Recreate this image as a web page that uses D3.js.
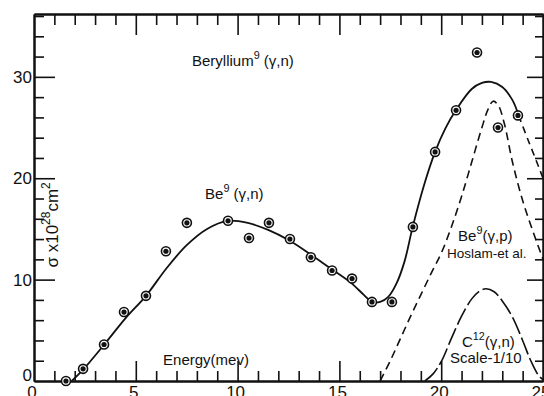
<!DOCTYPE html>
<html>
<head>
<meta charset="utf-8">
<script src="https://cdn.jsdelivr.net/npm/d3@7/dist/d3.min.js"></script>
<style>
  body { margin: 0; background: #fff; }
  svg { display: block; }
  text { font-family: "Liberation Sans", "DejaVu Sans", sans-serif; fill: #111; }
  .axis path, .axis line { stroke: #111; }
</style>
</head>
<body>
<svg id="chart" width="544" height="396"></svg>
<script>
// measured points, Be9(gamma,n)
const energy = [1.57, 2.41, 3.44, 4.42, 5.50, 6.48, 7.51, 9.53, 10.56, 11.54, 12.57, 13.60, 14.64, 15.62, 16.60, 17.58, 18.61, 19.70, 20.73, 21.76, 22.79, 23.77];
const sigma = [0.0, 1.2, 3.6, 6.8, 8.4, 12.8, 15.6, 15.8, 14.1, 15.6, 14.0, 12.2, 10.9, 10.1, 7.8, 7.8, 15.2, 22.6, 26.7, 32.4, 25.0, 26.2];

// drawn curve through the points (solid part, then dashed tail)
const fitE = [1.85, 2.4, 3.45, 4.5, 5.5, 6.5, 7.5, 8.5, 9.5, 10.5, 11.5, 12.5, 13.5, 14.5, 15.5, 16.2, 16.6, 17.0, 17.4, 17.8, 18.2, 18.6, 19.2, 19.7, 20.2, 20.75, 21.5, 22.0, 22.45, 23.0, 23.5, 23.8];
const fitS = [0.0, 1.1, 3.6, 6.2, 8.4, 11.1, 13.4, 15.0, 15.8, 15.6, 14.9, 13.9, 12.6, 11.2, 9.8, 8.5, 7.8, 7.8, 8.3, 9.6, 11.8, 15.2, 19.6, 22.6, 24.9, 26.8, 28.8, 29.4, 29.5, 29.0, 27.7, 26.2];
const tailE = [23.8, 24.3, 24.85, 25.3];
const tailS = [26.2, 23.6, 20.8, 18.3];

// Be9(gamma,p), Haslam et al.
const protonE = [17.0, 17.5, 18.0, 18.5, 19.0, 19.5, 20.0, 20.5, 21.0, 21.5, 22.0, 22.3, 22.55, 22.8, 23.1, 23.5, 24.0, 24.5, 25.0, 25.4];
const protonS = [0.0, 2.0, 4.2, 6.4, 8.5, 10.6, 12.6, 15.2, 18.2, 21.6, 25.0, 26.8, 27.6, 27.2, 25.4, 21.6, 17.8, 14.8, 12.0, 9.8];

// C12(gamma,n), scale 1/10
const carbonE = [19.2, 19.6, 20.0, 20.5, 21.0, 21.5, 21.9, 22.2, 22.6, 23.0, 23.5, 24.0, 24.4, 24.8, 25.1];
const carbonS = [0.0, 0.7, 1.9, 4.2, 6.4, 8.1, 8.9, 9.1, 8.8, 7.9, 6.3, 4.0, 2.0, 0.5, 0.0];

const xLabels = [0, 5, 10, 15, 20, 25];
const yLabels = [0, 10, 20, 30];

const svg = d3.select('#chart');
const width = +svg.attr('width');
const height = +svg.attr('height');

const x = d3.scaleLinear().domain([0, 25]).range([34, 543]);
const y = d3.scaleLinear().domain([0, 36.2]).range([381, 14]);

svg.append('rect').attr('width', width).attr('height', height).attr('fill', '#fff');

svg.append('clipPath').attr('id', 'plot')
  .append('rect')
    .attr('x', x(0)).attr('y', y(36.2))
    .attr('width', x(25) - x(0)).attr('height', y(0) - y(36.2));

// axes, ticks pointing inward
function tickAxis(axisFn, scale, values, size, transform) {
  svg.append('g')
    .attr('class', 'axis')
    .attr('transform', transform)
    .call(axisFn(scale).tickValues(values).tickSizeInner(size).tickSizeOuter(0).tickFormat(''))
    .call(g => g.select('.domain').attr('stroke-width', 2))
    .call(g => g.selectAll('.tick line').attr('stroke-width', 1.6));
}

const unitTicks = d3.range(0, 26).filter(d => d % 5 != 0);
const fiveTicks = [5, 10, 15, 20];
const evenTicks = d3.range(2, 37, 2).filter(d => d % 10 != 0);
const tenTicks = [10, 20, 30];

tickAxis(d3.axisBottom, x, unitTicks, -10, `translate(0,${y(0)})`);
tickAxis(d3.axisBottom, x, fiveTicks, -20, `translate(0,${y(0)})`);
tickAxis(d3.axisTop, x, unitTicks, -11, `translate(0,${y(36.2)})`);
tickAxis(d3.axisTop, x, fiveTicks, -21, `translate(0,${y(36.2)})`);
tickAxis(d3.axisLeft, y, evenTicks, -10, `translate(${x(0)},0)`);
tickAxis(d3.axisLeft, y, tenTicks, -21, `translate(${x(0)},0)`);
tickAxis(d3.axisRight, y, evenTicks, -8, `translate(${x(25)},0)`);
tickAxis(d3.axisRight, y, tenTicks, -16, `translate(${x(25)},0)`);

svg.append('g').selectAll('text')
  .data(xLabels)
  .enter().append('text')
    .attr('x', d => x(d) - 2)
    .attr('y', 398)
    .attr('text-anchor', 'middle')
    .attr('font-size', 17)
    .text(d => d);

svg.append('g').selectAll('text')
  .data(yLabels)
  .enter().append('text')
    .attr('x', x(0) - 2)
    .attr('y', d => y(d) + (d == 0 ? 0 : 6))
    .attr('text-anchor', 'end')
    .attr('font-size', 17)
    .text(d => d);

// curves
const line = d3.line()
  .x(d => x(d[0]))
  .y(d => y(d[1]))
  .curve(d3.curveCatmullRom.alpha(0.5));

const curves = svg.append('g').attr('clip-path', 'url(#plot)').attr('fill', 'none').attr('stroke', '#111');

curves.append('path')
  .attr('d', line(d3.zip(fitE, fitS)))
  .attr('stroke-width', 1.8);

curves.append('path')
  .attr('d', line(d3.zip(tailE, tailS)))
  .attr('stroke-width', 1.6)
  .attr('stroke-dasharray', '7,5');

curves.append('path')
  .attr('d', line(d3.zip(protonE, protonS)))
  .attr('stroke-width', 1.6)
  .attr('stroke-dasharray', '8,5');

curves.append('path')
  .attr('d', line(d3.zip(carbonE, carbonS)))
  .attr('stroke-width', 1.6)
  .attr('stroke-dasharray', '18,4');

// data markers: ring with a dot
const marks = svg.append('g')
  .selectAll('g')
  .data(d3.zip(energy, sigma))
  .enter().append('g')
    .attr('transform', d => `translate(${x(d[0])},${y(d[1])})`);
marks.append('circle').attr('r', 4.5).attr('fill', '#fff').attr('stroke', '#111').attr('stroke-width', 1.6);
marks.append('circle').attr('r', 2.6).attr('fill', '#111');

// annotations
function label(pos, parts, size) {
  const t = svg.append('text')
    .attr('x', x(pos[0]))
    .attr('y', y(pos[1]))
    .attr('font-size', size);
  for (const p of parts) {
    const span = t.append('tspan').text(p.text);
    if (p.sup) {
      span.attr('font-size', size * 0.72).attr('dy', -size * 0.45);
    }
    else if (p.after) {
      span.attr('dy', size * 0.45);
    }
  }
  return t;
}

label([7.76, 31.1], [{ text: 'Beryllium' }, { text: '9', sup: true }, { text: ' (γ,n)', after: true }], 15);
label([8.4, 18.0], [{ text: 'Be' }, { text: '9', sup: true }, { text: ' (γ,n)', after: true }], 15);
label([6.34, 1.58], [{ text: 'Energy(mev)' }], 15);
label([20.83, 13.8], [{ text: 'Be' }, { text: '9', sup: true }, { text: '(γ,p)', after: true }], 15);
label([20.28, 12.15], [{ text: 'Hoslam-et al.' }], 13.5);
label([21.02, 3.35], [{ text: 'C' }, { text: '12', sup: true }, { text: '(γ,n)', after: true }], 15);
label([20.43, 1.77], [{ text: 'Scale-1/10' }], 15);

// vertical axis title
const yTitle = svg.append('text')
  .attr('transform', `translate(${x(1.2)},${y(15.4)}) rotate(-90)`)
  .attr('text-anchor', 'middle')
  .attr('font-size', 17);
yTitle.append('tspan').text('σ x10');
yTitle.append('tspan').text('28').attr('font-size', 12).attr('dy', -8);
yTitle.append('tspan').text('cm').attr('dy', 8);
yTitle.append('tspan').text('2').attr('font-size', 12).attr('dy', -8);
</script>
</body>
</html>
